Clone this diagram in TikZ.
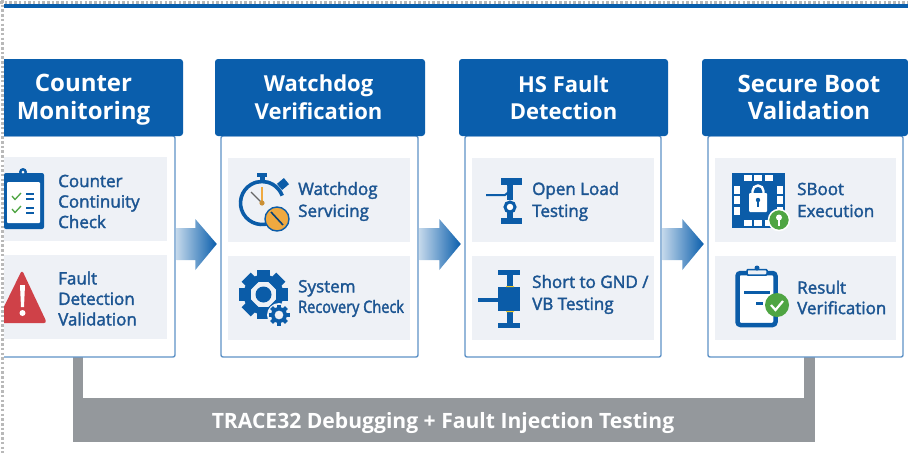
\documentclass[tikz,border=0pt]{standalone}
\usepackage{fontspec}
\setmainfont{Open Sans}
\newfontfamily\itemfont[FakeBold=2]{Open Sans}
\newfontfamily\tightfont[FakeStretch=0.855,FakeBold=2]{Open Sans}
\usetikzlibrary{calc}
\definecolor{headblue}{HTML}{0A5EAC}
\definecolor{edgeblue}{HTML}{5F93C7}
\definecolor{panelgray}{HTML}{EEF1F6}
\definecolor{itemblue}{HTML}{1C5592}
\definecolor{iconblue}{HTML}{0B5CA8}
\definecolor{busgray}{HTML}{94989C}
\definecolor{warnred}{HTML}{CF4148}
\definecolor{okgreen}{HTML}{4FA543}
\definecolor{dialorange}{HTML}{EFA940}
\tikzset{
	headbox/.style={fill=headblue,rounded corners=3pt,minimum height=77pt,inner sep=0pt},
	headtext/.style={text=white,align=center,inner sep=0pt,font=\fontsize{22}{27.5}\selectfont\bfseries},
	bodybox/.style={draw=edgeblue,line width=1.4pt,fill=white,rounded corners=2pt,minimum height=221pt,inner sep=0pt},
	panelbox/.style={fill=panelgray,minimum height=84pt,inner sep=0pt},
	itemtext/.style={text=itemblue,align=left,anchor=west,inner sep=0pt,font=\fontsize{17}{20.5}\selectfont\itemfont},
	busleg/.style={draw=busgray,line width=10.5pt},
	flowshade/.style={left color=headblue!25,right color=headblue},
}
\newcommand{\flowarrow}[2]{
	\path[flowshade] ($(#1.east)+(1,-18.5)$) -- ($(#2.west)+(-25,-18.5)$) -- ($(#2.west)+(-25,-27.5)$)
		-- ($(#2.west)+(-3.5,-2.5)$) -- ($(#2.west)+(-25,23.5)$) -- ($(#2.west)+(-25,13.5)$) -- ($(#1.east)+(1,13.5)$) -- cycle;
}
\begin{document}
\begin{tikzpicture}[x=1pt,y=-1pt]
	\useasboundingbox (0,0) rectangle (908,453);
	\clip (0,0) rectangle (908,453);
	\fill[white] (0,0) rectangle (908,453);
	\fill[headblue] (4,4) rectangle (908,7.5);

	% bus under the columns
	\node[fill=busgray,minimum width=742pt,minimum height=44pt,inner sep=0pt] (trace) at (444,420) {};
	\node[text=white,inner sep=0pt,font=\fontsize{21.1}{25}\selectfont\bfseries] (tracetext) at (443,423.5) {TRACE32 Debugging + Fault Injection Testing};
	\coordinate (legl) at (78,350);
	\coordinate (legr) at (809.5,350);
	\draw[busleg] (legl) -- (legl |- trace.north);
	\draw[busleg] (legr) -- (legr |- trace.north);

	\node[bodybox,minimum width=177pt] (body1) at (86.5,246.5) {};
	\node[bodybox,minimum width=197pt] (body2) at (319.5,246.5) {};
	\node[bodybox,minimum width=196pt] (body3) at (563,246.5) {};
	\node[bodybox,minimum width=195pt] (body4) at (805.5,246.5) {};

	\node[headbox,minimum width=185pt] (head1) at (90.5,97.5) {};
	\node[headbox,minimum width=210pt] (head2) at (320,97.5) {};
	\node[headbox,minimum width=209pt] (head3) at (563.5,97.5) {};
	\node[headbox,minimum width=206pt] (head4) at (805,97.5) {};
	\node[headtext,font=\fontsize{24}{27.5}\selectfont\bfseries] (ht1) at (83.5,99.5) {Counter\\Monitoring};
	\node[headtext] (ht2) at (318.5,97) {Watchdog\\Verification};
	\node[headtext] (ht3) at (563.5,97.5) {HS Fault\\Detection};
	\node[headtext,font=\fontsize{24}{27.5}\selectfont\bfseries] (ht4) at (809,97.5) {Secure Boot\\Validation};

	\flowarrow{body1}{body2}
	\flowarrow{body2}{body3}
	\flowarrow{body3}{body4}

	\node[panelbox,minimum width=163pt] (p11) at (85.5,199) {};
	\node[panelbox,minimum width=163pt] (p12) at (85.5,296.5) {};
	\node[panelbox,minimum width=182pt] (p21) at (319,200) {};
	\node[panelbox,minimum width=182pt] (p22) at (319,298) {};
	\node[panelbox,minimum width=182pt] (p31) at (563,200) {};
	\node[panelbox,minimum width=182pt] (p32) at (563,298) {};
	\node[panelbox,minimum width=181pt] (p41) at (805.5,200) {};
	\node[panelbox,minimum width=181pt] (p42) at (805.5,298) {};

	\node[itemtext] (t11) at (58,201.5) {Counter\\Continuity\\Check};
	\node[itemtext] (t12) at (58,298.5) {Fault\\Detection\\Validation};
	\node[itemtext] (t21) at (298,201.5) {Watchdog\\[1.5pt]Servicing};
	\node[itemtext] (t22) at (298,298.5) {System\\{\tightfont Recovery Check}};
	\node[itemtext] (t31) at (532,201.5) {Open Load\\[1.5pt]Testing};
	\node[itemtext] (t32) at (532,294.5) {Short to GND /\\[1.5pt]VB Testing};
	\node[itemtext] (t41) at (797,200) {SBoot\\[1.5pt]Execution};
	\node[itemtext] (t42) at (797,297.5) {Result\\Verification};

	% clipboard
	\fill[iconblue,rounded corners=2pt] (4,173) rectangle (44,229);
	\fill[white,rounded corners=1pt] (7,182) rectangle (40,223);
	\fill[iconblue,rounded corners=2pt] (16,173) rectangle (31,180);
	\fill[iconblue] (23,172) circle (4);
	\fill[white] (23,172) circle (1.5);
	\draw[okgreen,line width=1.3pt] (12,196) -- (15,199.5) -- (21,193);
	\draw[okgreen,line width=1.3pt] (12,209) -- (15,212.5) -- (21,206);
	\draw[iconblue,line width=1.1pt] (26,194) -- (34,194) (26,199) -- (34,199) (26,208) -- (34,208) (26,213) -- (34,213);

	% warning sign
	\fill[warnred,rounded corners=3pt] (22,270) -- (47,323) -- (-4,323) -- cycle;
	\fill[white] (20,285) -- (25,285) -- (24,307) -- (21,307) -- cycle;
	\fill[white] (22.5,313) circle (3);

	% stopwatch
	\draw[iconblue,line width=3.6pt] (262,203) ++(60:21.5) arc (60:340:21.5);
	\fill[iconblue] (260,176) rectangle (265,182);
	\fill[iconblue] (257,173) rectangle (267,176.5);
	\fill[iconblue,rotate around={40:(283,184)}] (278.5,180) rectangle (287.5,188);
	\draw[gray!80!black,line width=1.2pt] (251,192) -- (262,203);
	\draw[dialorange,line width=1.2pt] (262,187) -- (262,203);
	\fill[dialorange!85!black] (262,203) circle (2.6);
	\draw[iconblue,line width=1.4pt,fill=dialorange] (277,219) circle (12);
	\draw[iconblue!70!black,line width=1.6pt] (271,212) -- (283,225);

	% gears
	\foreach \a in {0,45,...,315}
		\fill[iconblue,rotate around={\a:(263.5,294.5)}] (257,270) rectangle (270,282);
	\fill[iconblue,even odd rule] (263.5,294.5) circle (20) (263.5,294.5) circle (13.5);
	\fill[iconblue] (263.5,294.5) circle (8);
	\fill[panelgray] (279,315) circle (12);
	\foreach \a in {0,45,...,315}
		\fill[iconblue,rotate around={\a:(279,315)}] (277,304.5) rectangle (281,309);
	\fill[iconblue,even odd rule] (279,315) circle (8) (279,315) circle (4.5);

	% open load symbol
	\fill[iconblue] (501,178) rectangle (522,185);
	\fill[iconblue] (501,218) rectangle (522,224);
	\fill[iconblue] (507,179) rectangle (513,200);
	\fill[iconblue] (507,212) rectangle (513,222);
	\fill[panelgray] (504,186) -- (507,186) -- (507,192) -- cycle;
	\draw[iconblue,line width=2pt] (486,195) -- (505,195) -- (510,191);
	\draw[iconblue,line width=3pt,fill=white] (510,207) circle (5);

	% short symbol
	\fill[iconblue] (498,270) rectangle (520,275);
	\fill[iconblue] (507,270) rectangle (513,287);
	\fill[iconblue] (498,287) rectangle (520,311);
	\fill[iconblue] (507,311) rectangle (513,327);
	\fill[iconblue] (498,323) rectangle (520,327.5);
	\fill[iconblue] (478,298) rectangle (498,302);
	\fill[dialorange!60!yellow] (506,286) rectangle (514,287) (506,311) rectangle (514,312);

	% chip with lock
	\fill[iconblue] (732,173) rectangle (785,228);
	\foreach \u in {0,1,2}{
		\fill[white] (743.5+\u*10.5,175) rectangle (751.5+\u*10.5,181);
		\fill[white] (743.5+\u*10.5,220) rectangle (751.5+\u*10.5,226);
		\fill[white] (734,185.5+\u*10.5) rectangle (740,193.5+\u*10.5);
		\fill[white] (777,185.5+\u*10.5) rectangle (783,193.5+\u*10.5);
	}
	\fill[white,rounded corners=1pt] (749,193) rectangle (767,212);
	\draw[white,line width=2.4pt] (752.5,194) -- (752.5,191) arc (180:360:5.5) -- (763.5,194);
	\fill[iconblue] (758,200) circle (2.2);
	\fill[iconblue] (757,200) rectangle (759,207);
	\draw[white,line width=1.5pt,fill=okgreen] (779,220) circle (10.5);
	\fill[white] (779,217.5) circle (3);
	\fill[white] (778,218) rectangle (780,226);

	% clipboard with check
	\draw[iconblue,line width=4.5pt,rounded corners=3pt,fill=white] (737.5,273) rectangle (775.5,325);
	\draw[iconblue,line width=1.5pt,fill=panelgray,rounded corners=1pt] (747,269.5) rectangle (767,275);
	\fill[iconblue] (757,268) circle (2.5);
	\fill[iconblue] (744,291) rectangle (770,294);
	\fill[iconblue] (756,302) rectangle (763,305);
	\fill[okgreen] (777,305) circle (12);
	\draw[white,line width=2.2pt] (771,305) -- (775.5,310) -- (783,301);

	% sheet edge
	\fill[white] (0,0) rectangle (4,453);
	\fill[white] (0,0) rectangle (908,4);
	\draw[gray!55,line width=3pt,dash pattern=on 2.5pt off 2.2pt] (0,2) -- (908,2);
	\draw[gray!55,line width=3pt,dash pattern=on 2.5pt off 2.2pt] (2,0) -- (2,453);
\end{tikzpicture}
\end{document}
